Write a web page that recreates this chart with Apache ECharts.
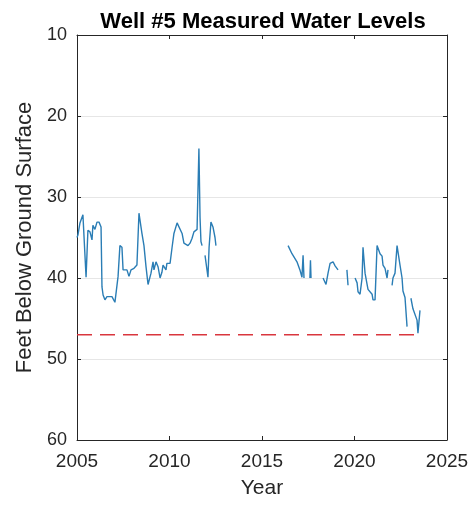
<!DOCTYPE html>
<html lang="en">
  <head>
    <meta charset="UTF-8" />
    <script src="https://cdn.jsdelivr.net/npm/echarts@6/dist/echarts.min.js"></script>
    <title>Well #5</title>
    <style>
      html, body { margin: 0; padding: 0; background: #fff; }
      #app { width: 473px; height: 505px; }
    </style>
  </head>
  <body>
    <div id="app"></div>
    <script>
      // measured levels, null = gap in record
      const years = [
        2005.0, 2005.05, 2005.16, 2005.32, 2005.38, 2005.49, 2005.59, 2005.7, 2005.81, 2005.86,
        2005.97, 2006.08, 2006.19, 2006.3, 2006.35, 2006.41, 2006.51, 2006.62, 2006.89, 2007.05,
        2007.22, 2007.32, 2007.43, 2007.49, 2007.7, 2007.81, 2007.92, 2008.08, 2008.24, 2008.35,
        2008.51, 2008.62, 2008.73, 2008.84, 2009.0, 2009.11, 2009.16, 2009.27, 2009.38, 2009.49,
        2009.59, 2009.65, 2009.81, 2009.86, 2010.03, 2010.14, 2010.24, 2010.41, 2010.51, 2010.68,
        2010.78, 2011.0, 2011.11, 2011.22, 2011.32, 2011.49, 2011.59, 2011.65, 2011.7, 2011.76,
        2011.86, 2011.92, 2011.97, 2012.08, 2012.14, 2012.24, 2012.35, 2012.46, 2012.51,
        2014.0,
        2016.41, 2016.62, 2016.89, 2017.05, 2017.16, 2017.22, 2017.27, 2017.4, 2017.59, 2017.62,
        2017.65, 2018.0, 2018.3, 2018.46, 2018.57, 2018.68, 2018.84, 2018.95, 2019.05, 2019.11,
        2019.3, 2019.59, 2019.65, 2019.8, 2020.03, 2020.14, 2020.19, 2020.3, 2020.41, 2020.46,
        2020.57, 2020.68, 2020.73, 2020.95, 2021.0, 2021.11, 2021.22, 2021.38, 2021.49, 2021.54,
        2021.65, 2021.76, 2021.81, 2021.9, 2022.03, 2022.08, 2022.19, 2022.3, 2022.46, 2022.57,
        2022.62, 2022.73, 2022.84, 2022.95, 2023.05, 2023.16, 2023.38, 2023.43, 2023.54
      ];
      const levels = [
        35, 34.7, 33.2, 32.2, 32, 39.9, 34.1, 34.3, 35.3, 33.5,
        34, 33.1, 33.1, 33.7, 41.1, 42.1, 42.7, 42.3, 42.3, 43,
        39.8, 36, 36.2, 39, 39, 39.8, 39, 38.8, 38.4, 32,
        34.5, 36, 38.6, 40.8, 39.4, 38, 39, 38, 38.6, 40,
        39.3, 38.4, 39, 38.2, 38.2, 36.2, 34.5, 33.2, 33, 34.5,
        35.7, 36, 35.7, 35.1, 34.3, 34, 24, 32.5, 35.5, 36,
        null, 37.2, 37.2, 39.9, 36.2, 33.1, 33.7, 35, 36,
        null,
        36, 37, 38, 39, 39.9, 37.2, 40, null, 40, 37.8,
        40, null, 40, 40.8, 39.4, 38.2, 38, 38.5, 38.5, 39,
        null, 39, 40.9, null, 40, 40.6, 41.7, 42, 40, 36.2,
        39.4, 40.8, 41.4, 42, 42.7, 42.7, 36, 37, 37.3, 38.4,
        38.8, 40, 39, null, 40.9, 40, 39.4, 36, 38.4, 40,
        41.6, 42.4, 46, null, 42.5, 43.8, 45.2, 46.8, 44
      ];
      const refYears = [2005, 2023.5];
      const refLevels = [47, 47];
      const xTicks = [2005, 2010, 2015, 2020, 2025];

      const measured = years.map((y, i) => [y, levels[i]]);
      const reference = refYears.map((y, i) => [y, refLevels[i]]);

      const ink = "#262626";
      const font = "Liberation Sans, Arial, sans-serif";
      const echart = echarts.init(document.getElementById("app"));

      const xBase = {
        type: "value",
        min: 2005,
        max: 2025,
        interval: 5,
        axisLine: { show: true, lineStyle: { color: ink, width: 1 } },
        axisTick: { show: true, inside: true, length: 4, lineStyle: { color: ink } },
        splitLine: { show: false },
      };
      const yBase = {
        type: "value",
        inverse: true,
        min: 10,
        max: 60,
        interval: 10,
        axisLine: { show: true, lineStyle: { color: ink, width: 1 } },
        axisTick: { show: true, inside: true, length: 4, lineStyle: { color: ink } },
      };

      echart.setOption({
        animation: false,
        backgroundColor: "#fff",
        title: {
          text: "Well #5 Measured Water Levels",
          left: 258,
          textAlign: "center",
          top: 6,
          textStyle: { fontFamily: font, fontWeight: "bold", fontSize: 22, color: "#000" },
        },
        grid: { left: 77, right: 26, top: 35, bottom: 65 },
        xAxis: [
          Object.assign({}, xBase, {
            position: "bottom",
            name: "Year",
            nameLocation: "middle",
            nameGap: 38,
            nameTextStyle: { fontFamily: font, fontSize: 21, color: ink },
            axisLabel: {
              fontFamily: font,
              fontSize: 19,
              color: ink,
              margin: 12,
              formatter: (v) => (xTicks.includes(v) ? String(v) : ""),
            },
          }),
          Object.assign({}, xBase, { position: "top", axisLabel: { show: false } }),
        ],
        yAxis: [
          Object.assign({}, yBase, {
            position: "left",
            name: "Feet Below Ground Surface",
            nameLocation: "middle",
            nameGap: 33,
            nameTextStyle: { fontFamily: font, fontSize: 22, color: ink },
            axisLabel: { fontFamily: font, fontSize: 18, color: ink, margin: 10 },
            splitLine: { show: true, lineStyle: { color: "#e6e6e6", width: 1 } },
          }),
          Object.assign({}, yBase, {
            position: "right",
            axisLabel: { show: false },
            splitLine: { show: false },
          }),
        ],
        series: [
          {
            name: "Measured",
            type: "line",
            data: measured,
            showSymbol: false,
            connectNulls: false,
            lineStyle: { color: "#2a7db5", width: 1.4 },
            z: 3,
          },
          {
            name: "Reference",
            type: "line",
            data: reference,
            showSymbol: false,
            lineStyle: { color: "#d9363e", width: 1.5, type: [15, 8] },
            z: 2,
          },
        ],
      });
    </script>
  </body>
</html>
